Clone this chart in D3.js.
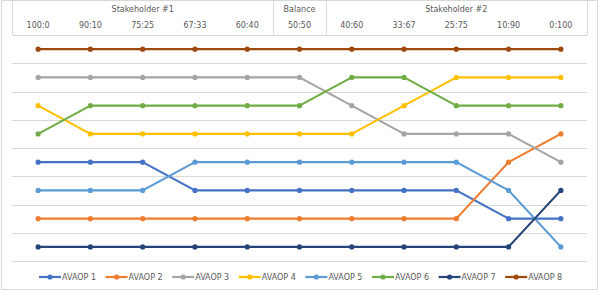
<!DOCTYPE html>
<html>
<head>
<meta charset="utf-8">
<script src="https://cdn.jsdelivr.net/npm/d3@7"></script>
<style>
  body { margin: 0; background: #fff; }
  svg { display: block; font-family: "DejaVu Sans", sans-serif; }
</style>
</head>
<body>
<div id="chart"></div>
<script>
// ratios along x
let ratios = ["100:0", "90:10", "75:25", "67:33", "60:40", "50:50", "40:60", "33:67", "25:75", "10:90", "0:100"];
let groups = [
    { name: "Stakeholder #1", from: "100:0", to: "60:40" },
    { name: "Balance", from: "50:50", to: "50:50" },
    { name: "Stakeholder #2", from: "40:60", to: "0:100" }
];
let seriesNames = ["AVAOP 1", "AVAOP 2", "AVAOP 3", "AVAOP 4", "AVAOP 5", "AVAOP 6", "AVAOP 7", "AVAOP 8"];
// rank (1 = top)
let avaop1 = [5, 5, 5, 6, 6, 6, 6, 6, 6, 7, 7];
let avaop2 = [7, 7, 7, 7, 7, 7, 7, 7, 7, 5, 4];
let avaop3 = [2, 2, 2, 2, 2, 2, 3, 4, 4, 4, 5];
let avaop4 = [3, 4, 4, 4, 4, 4, 4, 3, 2, 2, 2];
let avaop5 = [6, 6, 6, 5, 5, 5, 5, 5, 5, 6, 8];
let avaop6 = [4, 3, 3, 3, 3, 3, 2, 2, 3, 3, 3];
let avaop7 = [8, 8, 8, 8, 8, 8, 8, 8, 8, 8, 6];
let avaop8 = [1, 1, 1, 1, 1, 1, 1, 1, 1, 1, 1];
let allSeries = [avaop1, avaop2, avaop3, avaop4, avaop5, avaop6, avaop7, avaop8];
let colors = ["#4472C4", "#ED7D31", "#A5A5A5", "#FFC000", "#5B9BD5", "#70AD47", "#264478", "#9E480E"];

let fullWidth = 599, fullHeight = 291;
let svg = d3.select("#chart").append("svg")
    .attr("width", fullWidth)
    .attr("height", fullHeight);

// chart frame
svg.append("rect")
    .attr("x", 1.5).attr("y", 0.5)
    .attr("width", fullWidth - 3).attr("height", fullHeight - 2)
    .attr("fill", "none")
    .attr("stroke", "#d9d9d9");

let left = 12, right = 587;
let x = d3.scaleBand().domain(ratios).range([left, right]);
let y = d3.scaleLinear().domain([0.5, 8.5]).range([35, 261]);
let cx = d => x(d) + x.bandwidth() / 2;

// gridlines
svg.append("g")
    .selectAll("line")
    .data(d3.range(1.5, 9, 1))
    .enter()
    .append("line")
    .attr("x1", left).attr("x2", right)
    .attr("y1", d => Math.round(y(d)) + 0.5)
    .attr("y2", d => Math.round(y(d)) + 0.5)
    .attr("stroke", "#d9d9d9");

// header box
let header = svg.append("g");
let hdr = { top: -1, bottom: 35 };
header.append("path")
    .attr("d", `M${left + 0.5},${hdr.top}V${hdr.bottom + 0.5}H${right + 0.5}V${hdr.top}`)
    .attr("fill", "none")
    .attr("stroke", "#d9d9d9");
groups.slice(1).forEach(g => {
    let xs = Math.round(x(g.from)) + 0.5;
    header.append("line")
        .attr("x1", xs).attr("x2", xs)
        .attr("y1", hdr.top).attr("y2", hdr.bottom)
        .attr("stroke", "#d9d9d9");
});
header.selectAll(".group-label")
    .data(groups)
    .enter()
    .append("text")
    .attr("x", d => (x(d.from) + x(d.to) + x.bandwidth()) / 2)
    .attr("y", 12)
    .attr("text-anchor", "middle")
    .style("font-size", "8px")
    .style("fill", "#595959")
    .text(d => d.name);
header.selectAll(".tick-label")
    .data(ratios)
    .enter()
    .append("text")
    .attr("x", d => cx(d))
    .attr("y", 28)
    .attr("text-anchor", "middle")
    .style("font-size", "8px")
    .style("fill", "#595959")
    .text(d => d);

// lines
let line = d3.line()
    .x((d, i) => cx(ratios[i]))
    .y(d => y(d));

allSeries.forEach((vals, s) => {
    let g = svg.append("g");
    g.append("path")
        .datum(vals)
        .attr("d", line)
        .attr("fill", "none")
        .attr("stroke", colors[s])
        .attr("stroke-width", 2.2)
        .attr("stroke-linejoin", "round");
    g.selectAll("circle")
        .data(vals)
        .enter()
        .append("circle")
        .attr("cx", (d, i) => cx(ratios[i]))
        .attr("cy", d => y(d))
        .attr("r", 2.6)
        .attr("fill", colors[s]);
});

// legend
let legend = svg.append("g").attr("transform", "translate(39,277)");
legend.selectAll(".legend-item")
    .data(seriesNames)
    .enter()
    .append("g")
    .attr("transform", (d, i) => `translate(${i * 66.6},0)`)
    .each(function(d, i) {
        let g = d3.select(this);
        g.append("line")
            .attr("x1", 0).attr("x2", 22)
            .attr("stroke", colors[i])
            .attr("stroke-width", 2.2);
        g.append("circle")
            .attr("cx", 11).attr("r", 2.6)
            .attr("fill", colors[i]);
        g.append("text")
            .attr("x", 23)
            .attr("y", 3)
            .style("font-size", "8px")
            .style("fill", "#595959")
            .text(d);
    });
</script>
</body>
</html>
